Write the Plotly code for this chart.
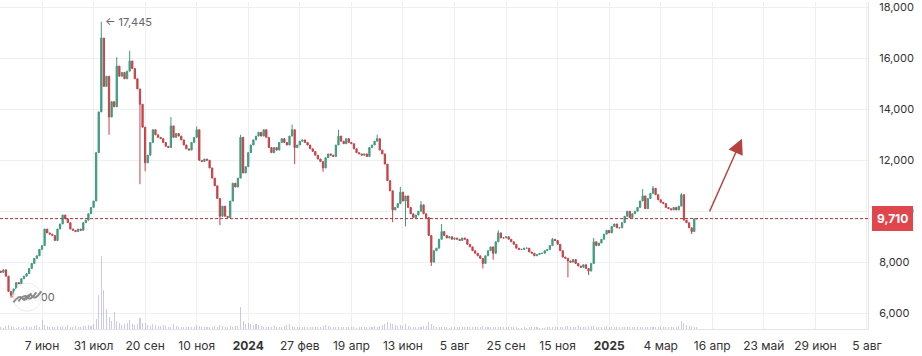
import plotly.graph_objects as go

# ---------------- data ----------------
tick_labels = ["7 июн", "31 июл", "20 сен", "10 ноя", "<b>2024</b>", "27 фев", "19 апр",
               "13 июн", "5 авг", "25 сен", "15 ноя", "<b>2025</b>", "4 мар", "16 апр",
               "23 май", "29 июн", "5 авг"]
tick_step = 20          # candles between date ticks
first_index = -16       # index of first candle relative to the "7 июн" tick

first_open = 7650
closes = [
    7600, 7700, 7450, 6850, 6700, 6950, 7200, 7150, 7350, 7450,
    7550, 7750, 7950, 8150, 8250, 8500, 8650, 9300, 9150, 9100,
    9050, 8850, 9300, 9500, 9850, 9700, 9550, 9300, 9250, 9200,
    9300, 9250, 9550, 9650, 9900, 10150, 10400, 12300, 13900, 16800,
    14900, 15300, 13700, 14300, 14100, 15700, 15300, 15450, 15200, 15500,
    15900, 15600, 15200, 14800, 14200, 13300, 11900, 12200, 12700, 13200,
    13000, 12900, 12850, 12700, 12550, 12500, 13350, 12900, 13050, 12950,
    12800, 12600, 12450, 12400, 12700, 12900, 13200, 12000, 11950, 12050,
    12000, 11700, 11300, 11000, 10500, 9800, 10200, 9800, 9750, 10400,
    11100, 10950, 11300, 12900, 11500, 11750, 12300, 12600, 12800, 12950,
    13100, 12950, 13200, 12900, 12500, 12300, 12500, 12400, 12700, 12850,
    12700, 12600, 12950, 13200, 12500, 12600, 12750, 12800, 12700, 12600,
    12450, 12350, 12200, 12050, 11950, 11700, 12100, 12250, 12200, 12150,
    12600, 12950, 12750, 12650, 12850, 12700, 12650, 12450, 12300, 12250,
    12200, 12250, 12150, 12500, 12600, 12750, 12850, 12400, 12250, 11850,
    11200, 10800, 10050, 10150, 10300, 10750, 10400, 10600, 10150, 9900,
    9750, 9850, 10000, 10250, 9900, 9750, 9050, 8000, 8450, 8550,
    8900, 9200, 9050, 8950, 9000, 8900, 8950, 8900, 8850, 8950,
    8900, 8700, 8600, 8450, 8350, 8250, 8150, 7950, 8250, 8450,
    8600, 8350, 8800, 9150, 8950, 8950, 9000, 8900, 8800, 8700,
    8550, 8500, 8500, 8550, 8550, 8400, 8350, 8250, 8300, 8350,
    8350, 8450, 8500, 8650, 8900, 8850, 8700, 8450, 8200, 8150,
    8050, 8000, 8100, 7950, 7850, 7800, 7900, 7750, 7650, 7950,
    8800, 8650, 8750, 8900, 9100, 9250, 9150, 9400, 9500, 9350,
    9350, 9550, 9800, 10000, 9750, 9900, 10000, 10150, 10400, 10600,
    10100, 10500, 10700, 10900, 10650, 10450, 10350, 10300, 10150, 10100,
    10050, 10150, 10050, 10200, 10650, 9650, 9550, 9350, 9200, 9700, 9710,
]
# visible wick extremes (candle index -> price)
wick_high = {23: 17445, 29: 16050, 34: 16300, 50: 13700, 60: 13330, 77: 13000,
             97: 13400, 115: 13200, 130: 13000, 139: 10950, 147: 10400, 155: 9500,
             177: 9250, 198: 8950, 214: 8950, 233: 10870, 237: 10990, 248: 10710}
wick_low = {-12: 6600, 26: 13000, 38: 11060, 40: 11570, 69: 9450, 98: 11850,
            109: 11550, 136: 9570, 141: 9400, 151: 7850, 171: 7750, 175: 8100,
            204: 7400, 212: 7500, 252: 9100}
volumes = [
    2, 1, 3, 4, 3, 2, 1, 2, 1, 2,
    3, 2, 2, 3, 4, 2, 9, 4, 3, 2,
    2, 2, 3, 2, 3, 2, 4, 2, 2, 3,
    2, 2, 3, 3, 4, 3, 5, 10, 34, 73,
    39, 20, 12, 8, 17, 8, 6, 4, 5, 6,
    9, 5, 4, 5, 11, 6, 6, 4, 3, 5,
    4, 3, 3, 4, 3, 2, 2, 5, 3, 2,
    2, 2, 2, 2, 2, 2, 4, 3, 2, 2,
    2, 2, 2, 3, 2, 4, 3, 2, 2, 3,
    2, 3, 3, 22, 8, 5, 6, 5, 4, 5,
    4, 3, 2, 2, 2, 2, 3, 2, 2, 2,
    3, 4, 5, 3, 2, 2, 2, 2, 2, 2,
    2, 2, 2, 2, 2, 3, 4, 3, 2, 2,
    2, 2, 2, 2, 2, 2, 2, 2, 1, 2,
    2, 2, 2, 2, 2, 3, 2, 3, 4, 5,
    7, 6, 5, 4, 3, 4, 3, 5, 3, 2,
    2, 2, 2, 2, 3, 3, 7, 5, 3, 2,
    2, 2, 2, 2, 1, 2, 2, 2, 2, 2,
    2, 2, 2, 2, 2, 2, 2, 3, 2, 2,
    2, 2, 2, 2, 2, 2, 2, 2, 2, 2,
    2, 1, 1, 2, 1, 2, 2, 2, 2, 1,
    1, 1, 2, 2, 2, 2, 2, 2, 2, 3,
    3, 2, 2, 2, 3, 2, 2, 2, 3, 3,
    3, 2, 2, 2, 2, 3, 2, 2, 2, 2,
    2, 2, 2, 2, 2, 2, 2, 2, 2, 2,
    2, 2, 2, 2, 2, 2, 2, 2, 2, 2,
    2, 2, 2, 3, 8, 6, 4, 3, 3, 2, 2,
]
last_price = 9710
min_label = "← 6,600"
forecast_from = (258.7, 9935)    # arrow tail (candle index, price)
forecast_to = (271.5, 12850)     # arrow head

# ---------------- build ----------------
idx = list(range(first_index, first_index + len(closes)))
opens = [first_open] + closes[:-1]
highs = [max(o, c, wick_high.get(i, 0)) for i, o, c in zip(idx, opens, closes)]
lows = [min(o, c, wick_low.get(i, 10 ** 9)) for i, o, c in zip(idx, opens, closes)]
peak_i = idx[highs.index(max(highs))]
peak_v = max(highs)
low_i = idx[lows.index(min(lows))]
low_v = min(lows)

tickvals = [k * tick_step for k in range(len(tick_labels))]

fig = go.Figure()
fig.add_trace(go.Bar(
    x=idx, y=volumes, yaxis="y2", width=0.4,
    marker=dict(color="rgba(150,150,225,0.5)", line=dict(width=0)),
    hoverinfo="skip"))
fig.add_trace(go.Candlestick(
    x=idx, open=opens, high=highs, low=lows, close=closes,
    increasing=dict(line=dict(color="#3f9b7f", width=1), fillcolor="#3f9b7f"),
    decreasing=dict(line=dict(color="#c6434a", width=1), fillcolor="#c6434a"),
    whiskerwidth=0))
fig.add_trace(go.Scatter(
    x=[low_i], y=[low_v], mode="text", text=[min_label], textposition="middle right",
    textfont=dict(family="Inter, sans-serif", size=11, color="#666"), hoverinfo="skip"))

# current price dashed line
fig.add_shape(type="line", xref="paper", x0=0, x1=1, y0=last_price, y1=last_price,
              line=dict(color="#b3302f", width=1, dash="3px,2px"), layer="above")

# watermark logo
fig.add_shape(type="circle", xref="x", yref="y", xsizemode="pixel", ysizemode="pixel",
              xanchor=low_i + 6.3, yanchor=low_v + 20, x0=-14, x1=14, y0=-14, y1=14,
              fillcolor="rgba(255,255,255,0.9)", line=dict(color="#ececec", width=1),
              layer="above")
for off in (-5, 0, 5):
    fig.add_shape(type="path", xref="x", yref="y", xsizemode="pixel", ysizemode="pixel",
                  xanchor=low_i + 6.3, yanchor=low_v + 20,
                  path=f"M {-9+off},{-4+off*0.2} Q {-3+off},{4+off*0.2} {0+off},{0+off*0.2} T {9+off},{5+off*0.2}",
                  line=dict(color="#8a8a8a", width=2), layer="above")

# peak label
fig.add_annotation(x=peak_i, y=peak_v, text="← 17,445", showarrow=False, xanchor="left",
                   xshift=2, font=dict(family="Inter, sans-serif", size=11, color="#666"))
# forecast arrow
fig.add_annotation(x=forecast_to[0], y=forecast_to[1], ax=forecast_from[0], ay=forecast_from[1],
                   axref="x", ayref="y", xref="x", yref="y", text="", showarrow=True,
                   arrowhead=2, arrowsize=2.2, arrowwidth=1.4, arrowcolor="#b8413d")
# price tag
fig.add_annotation(xref="paper", x=1, y=last_price, yref="y", text="<b>9,710</b>",
                   showarrow=False, xanchor="left", xshift=4, bgcolor="#e0474c",
                   bordercolor="#e0474c", borderpad=4,
                   font=dict(family="Inter, sans-serif", size=12, color="white"))

fig.update_layout(
    width=922, height=356, margin=dict(l=0, r=54, t=0, b=27),
    paper_bgcolor="white", plot_bgcolor="white", showlegend=False,
    bargap=0,
    font=dict(family="Inter, sans-serif", size=12, color="#333"),
    xaxis=dict(range=[-16.3, 320.4], tickvals=tickvals, ticktext=tick_labels,
               showgrid=True, gridcolor="#efefef", gridwidth=1, zeroline=False,
               showline=True, linecolor="#e3e3e3", ticks="", rangeslider=dict(visible=False),
               tickfont=dict(size=12, color="#333"), ticklabelstandoff=6),
    yaxis=dict(range=[5376, 18215], side="right", tickvals=[6000, 8000, 10000, 12000, 14000, 16000, 18000],
               tickformat=",d", showgrid=True, gridcolor="#efefef", zeroline=False,
               showline=True, linecolor="#e3e3e3", ticks="", ticklabelstandoff=8,
               ticklabeloverflow="allow",
               tickfont=dict(size=11, color="#333")),
    yaxis2=dict(overlaying="y", range=[0, 329], visible=False),
)

fig.write_html("out.html", config={"displayModeBar": False},
               post_script="document.body.style.margin='0';document.body.style.padding='0';")
